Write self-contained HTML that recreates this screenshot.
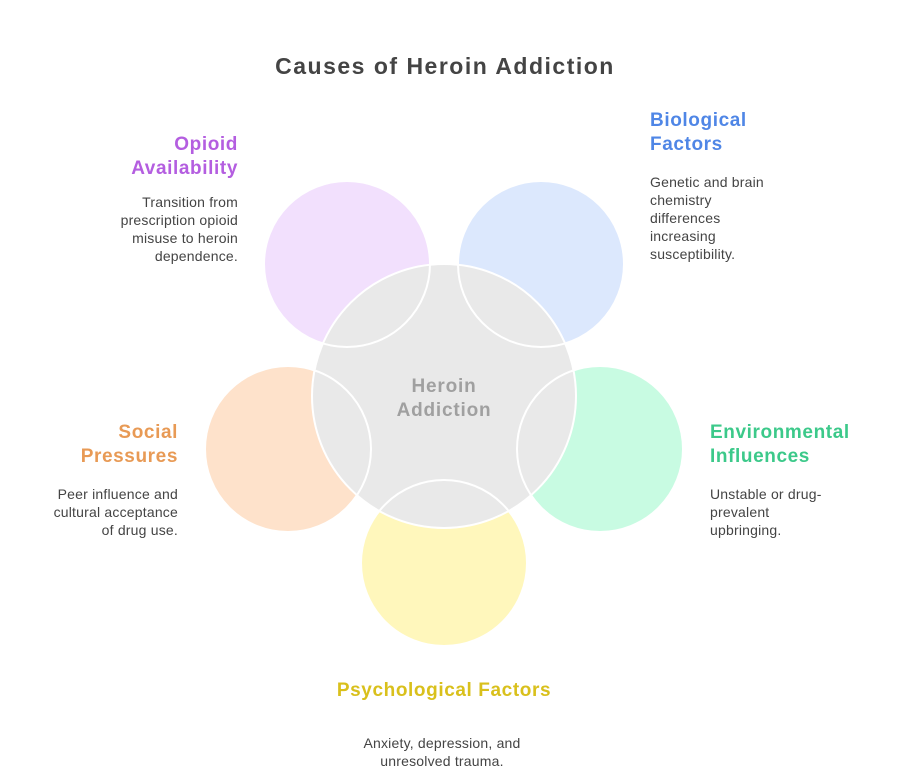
<!DOCTYPE html>
<html><head><style>
body{margin:0;background:#fff;width:900px;height:781px;overflow:hidden;font-family:"Liberation Sans",sans-serif}
.t{position:absolute;font-weight:bold;font-size:19px;line-height:24px;letter-spacing:0.6px}
.d{position:absolute;font-size:14px;line-height:18px;color:#444;letter-spacing:0.2px}
</style></head><body>
<svg width="900" height="781" style="position:absolute;left:0;top:0">
<g stroke="none">
<circle cx="347" cy="264" r="83" fill="#f2e0fd"/>
<circle cx="541" cy="264" r="83" fill="#dce8fd"/>
<circle cx="600" cy="449" r="83" fill="#c8fbe2"/>
<circle cx="444" cy="563" r="83" fill="#fff7bc"/>
<circle cx="288" cy="449" r="83" fill="#fee2cb"/>
<circle cx="444" cy="396" r="132" fill="#e9e9e9"/>
</g>
<g fill="none" stroke="#fff" stroke-width="2">
<circle cx="347" cy="264" r="83"/>
<circle cx="541" cy="264" r="83"/>
<circle cx="600" cy="449" r="83"/>
<circle cx="444" cy="563" r="83"/>
<circle cx="288" cy="449" r="83"/>
<circle cx="444" cy="396" r="132"/>
</g>
<text x="444" y="392" text-anchor="middle" font-family="Liberation Sans" font-weight="bold" font-size="19" letter-spacing="0.8" fill="#a0a0a0">Heroin</text>
<text x="444" y="416" text-anchor="middle" font-family="Liberation Sans" font-weight="bold" font-size="19" letter-spacing="0.8" fill="#a0a0a0">Addiction</text>
</svg>
<div class="t" style="left:0;width:890px;top:54px;text-align:center;font-size:23px;letter-spacing:1.5px;color:#444">Causes of Heroin Addiction</div>
<div class="t" style="right:662px;top:133px;text-align:right;color:#b45ee0">Opioid<br>Availability</div>
<div class="d" style="right:662px;top:193px;text-align:right">Transition from<br>prescription opioid<br>misuse to heroin<br>dependence.</div>
<div class="t" style="left:650px;top:109px;color:#4f86e6">Biological<br>Factors</div>
<div class="d" style="left:650px;top:173px">Genetic and brain<br>chemistry<br>differences<br>increasing<br>susceptibility.</div>
<div class="t" style="left:710px;top:421px;color:#3cc98a">Environmental<br>Influences</div>
<div class="d" style="left:710px;top:485px">Unstable or drug-<br>prevalent<br>upbringing.</div>
<div class="t" style="right:722px;top:421px;text-align:right;color:#e89a55">Social<br>Pressures</div>
<div class="d" style="right:722px;top:485px;text-align:right">Peer influence and<br>cultural acceptance<br>of drug use.</div>
<div class="t" style="left:0;width:888px;top:679px;text-align:center;color:#d9c01c">Psychological Factors</div>
<div class="d" style="left:0;width:884px;top:734px;text-align:center">Anxiety, depression, and<br>unresolved trauma.</div>
</body></html>
